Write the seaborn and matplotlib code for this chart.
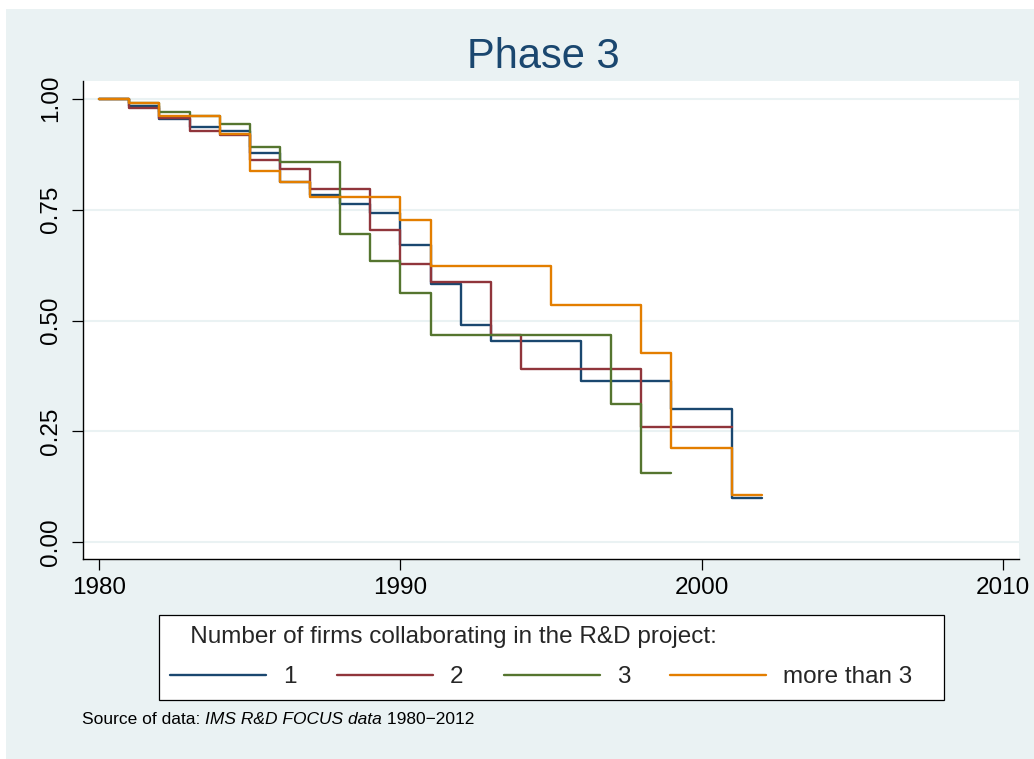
import matplotlib
matplotlib.use("Agg")
import matplotlib.pyplot as plt
from matplotlib.lines import Line2D
from matplotlib.patches import Rectangle
import numpy as np
import pandas as pd
import seaborn as sns

# Kaplan-Meier survival estimates by number of collaborating firms (step starts + end point)
years_1 = [1980, 1981, 1982, 1983, 1984, 1985, 1986, 1987, 1988, 1989, 1990,
           1991, 1992, 1993, 1996, 1999, 2001, 2002]
surv_1 = [1.0, 0.983, 0.954, 0.936, 0.928, 0.878, 0.813, 0.782, 0.763, 0.742,
          0.670, 0.583, 0.490, 0.453, 0.363, 0.301, 0.101, 0.101]

years_2 = [1980, 1981, 1982, 1983, 1984, 1985, 1986, 1987, 1989, 1990, 1991,
           1993, 1994, 1998, 2001]
surv_2 = [1.0, 0.978, 0.957, 0.926, 0.917, 0.861, 0.842, 0.797, 0.703, 0.628,
          0.587, 0.468, 0.391, 0.261, 0.261]

years_3 = [1980, 1981, 1982, 1983, 1984, 1985, 1986, 1988, 1989, 1990, 1991,
           1997, 1998, 1999]
surv_3 = [1.0, 0.990, 0.970, 0.960, 0.943, 0.892, 0.857, 0.696, 0.633, 0.562,
          0.468, 0.313, 0.157, 0.157]

years_4 = [1980, 1981, 1982, 1984, 1985, 1986, 1987, 1990, 1991, 1995, 1998,
           1999, 2001, 2002]
surv_4 = [1.0, 0.989, 0.960, 0.920, 0.838, 0.812, 0.779, 0.726, 0.622, 0.534,
          0.427, 0.213, 0.107, 0.107]

group_labels = ["1", "2", "3", "more than 3"]
group_colors = ["#1A476F", "#90353B", "#55752F", "#E37E00"]

x_ticks = [1980, 1990, 2000, 2010]
y_ticks = [0.0, 0.25, 0.5, 0.75, 1.0]
y_tick_labels = ["0.00", "0.25", "0.50", "0.75", "1.00"]

title_text = "Phase 3"
legend_title = "Number of firms collaborating in the R&D project:"

frames = []
for lab, yrs, sv in zip(group_labels, [years_1, years_2, years_3, years_4],
                        [surv_1, surv_2, surv_3, surv_4]):
    frames.append(pd.DataFrame({"year": yrs, "survival": sv, "group": lab}))
df = pd.concat(frames, ignore_index=True)

sns.set_style("white")
plt.rcParams["font.family"] = ["Liberation Sans", "DejaVu Sans"]

BG = "#EAF2F3"
fig = plt.figure(figsize=(10.34, 7.59), dpi=100, facecolor="white")
fig.patches.append(Rectangle((6 / 1034, 0), 1, 1 - 9 / 759, transform=fig.transFigure,
                             facecolor=BG, edgecolor="none", zorder=-10))

ax = fig.add_axes([82.7 / 1034, 1 - 559.3 / 759, (1019 - 82.7) / 1034, (559.3 - 81.3) / 759])
ax.set_facecolor("white")

sns.lineplot(data=df, x="year", y="survival", hue="group", hue_order=group_labels,
             palette=group_colors, drawstyle="steps-post", estimator=None,
             linewidth=1.7, legend=False, ax=ax, zorder=3)

ax.set_xlim(1979.45, 2010.54)
ax.set_ylim(-0.038, 1.039)
ax.set_xticks(x_ticks)
ax.set_xticklabels([str(t) for t in x_ticks])
ax.set_yticks(y_ticks)
ax.set_yticklabels(y_tick_labels, rotation=90, va="center")
ax.set_xlabel("")
ax.set_ylabel("")

for y in y_ticks:
    ax.axhline(y, color=BG, linewidth=1.5, zorder=1)

for s in ["top", "right"]:
    ax.spines[s].set_visible(False)
for s in ["left", "bottom"]:
    ax.spines[s].set_color("black")
    ax.spines[s].set_linewidth(1.0)

ax.tick_params(axis="both", which="major", direction="out", length=8, width=0.9,
               color="black", labelsize=17.5, labelcolor="black", left=True, bottom=True)
ax.tick_params(axis="y", pad=7)
ax.tick_params(axis="x", pad=5)

fig.text(543 / 1034, 1 - 57 / 759, title_text, ha="center", va="center",
         fontsize=30, color="#1A476F")

handles = [Line2D([], [], color=c, linewidth=1.7) for c in group_colors]
entry_labels = group_labels[:-1] + [group_labels[-1] + "   "]
leg = fig.legend(handles, entry_labels, loc="upper left",
                 bbox_to_anchor=(159 / 1034, 1 - 615 / 759), ncol=4,
                 title="   " + legend_title, title_fontsize=17.5, fontsize=17.5,
                 alignment="left", frameon=True, fancybox=False, framealpha=1,
                 edgecolor="black", facecolor="white", handlelength=3.95,
                 handletextpad=0.7, columnspacing=1.65, borderpad=0.47,
                 labelspacing=0.74, borderaxespad=0)
leg.get_frame().set_linewidth(0.9)

# Source note with italic dataset name
renderer = fig.canvas.get_renderer()
note_y = 1 - 719 / 759
x0 = 82 / 1034
parts = [("Source of data: ", "normal"), ("IMS R&D FOCUS data", "italic"), (" 1980\u22122012", "normal")]
for txt, style in parts:
    t = fig.text(x0, note_y, txt, ha="left", va="center", fontsize=12.5,
                 style=style, color="black")
    bb = t.get_window_extent(renderer=renderer)
    x0 += bb.width / fig.bbox.width

fig.savefig("out.png", dpi=100, facecolor=fig.get_facecolor())
